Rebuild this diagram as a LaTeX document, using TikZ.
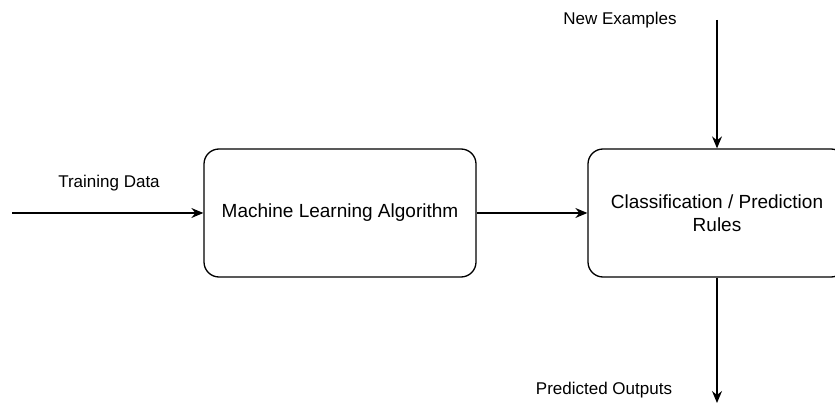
\documentclass[tikz,border=0pt]{standalone}
\usepackage{fontspec}
\setmainfont{Liberation Sans}
\usetikzlibrary{arrows.meta}
\begin{document}
\begin{tikzpicture}[x=1pt,y=-1pt,
  box/.style={draw,line width=1.3pt,rounded corners=15pt,minimum width=272pt,minimum height=128pt,align=center,font=\fontsize{19}{23}\selectfont,inner sep=0pt},
  lbl/.style={font=\fontsize{17}{20}\selectfont,inner sep=0pt},
  conn/.style={line width=1.3pt,-{Stealth[length=12pt,width=10pt,inset=4pt]}}]
\useasboundingbox[fill=white] (0,0) rectangle (835,403);
\node[box] (mla) at (340,213) {Machine Learning Algorithm};
\node[box,minimum width=258pt] (cpr) at (717,213) {Classification / Prediction\\Rules};
\coordinate (in) at (12,213);
\coordinate (top) at (717,20);
\coordinate (out) at (717,403);
\node[lbl] (td) at (109,183) {Training Data};
\node[lbl] (ne) at (620,20) {New Examples};
\node[lbl] (po) at (604,390) {Predicted Outputs};
\draw[conn] (in) -- (mla);
\draw[conn] (mla) -- (cpr);
\draw[conn] (top) -- (cpr);
\draw[conn] (cpr) -- (out);
\end{tikzpicture}
\end{document}
